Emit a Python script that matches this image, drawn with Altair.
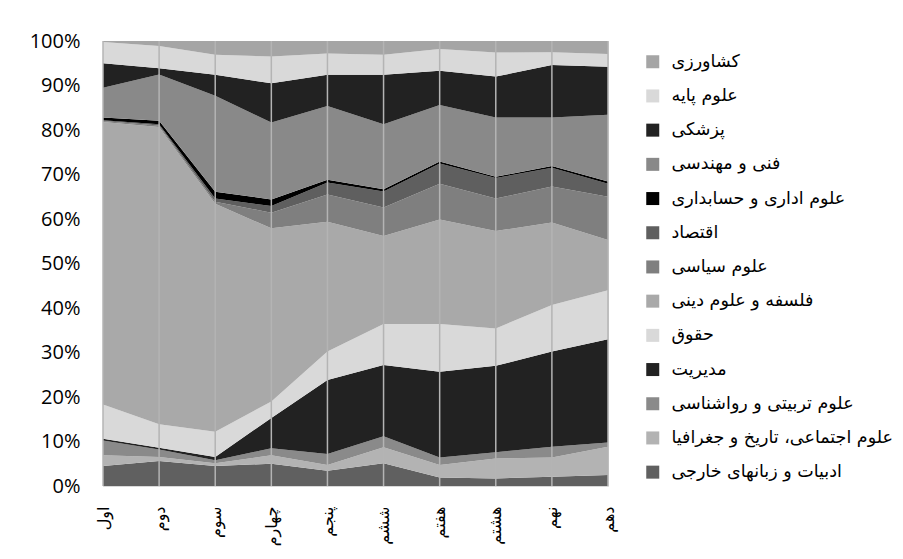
import altair as alt
import pandas as pd

grades = ["اول", "دوم", "سوم", "چهارم", "پنجم", "ششم", "هفتم", "هشتم", "نهم", "دهم"]

# series from bottom of the stack to the top
fields = [
    "ادبیات و زبانهای خارجی",
    "علوم اجتماعی، تاریخ و جغرافیا",
    "علوم تربیتی  و رواشناسی",
    "مدیریت",
    "حقوق",
    "فلسفه و علوم دینی",
    "علوم سیاسی",
    "اقتصاد",
    "علوم اداری و حسابداری",
    "فنی و مهندسی",
    "پزشکی",
    "علوم پایه",
    "کشاورزی",
]

adabiat = [4.5, 5.6, 4.5, 5.0, 3.4, 5.1, 1.9, 1.7, 2.1, 2.5]
ejtemaei = [2.4, 0.9, 0.6, 1.9, 1.3, 3.6, 2.8, 4.5, 4.3, 6.3]
tarbiati = [3.3, 1.7, 0.7, 1.6, 2.5, 2.5, 1.7, 1.4, 2.4, 1.0]
modiriat = [0.4, 0.4, 0.7, 6.8, 16.6, 16.0, 19.3, 19.4, 21.4, 23.2]
hoghoogh = [7.7, 5.3, 5.7, 3.7, 6.4, 9.2, 10.7, 8.4, 10.5, 11.0]
falsafe = [63.5, 66.8, 51.2, 38.9, 29.2, 19.8, 23.5, 21.9, 18.5, 11.3]
siasi = [0.2, 0.3, 0.5, 3.5, 6.1, 6.4, 8.0, 7.3, 8.1, 9.7]
eghtesad = [0.2, 0.3, 0.7, 1.5, 2.7, 3.6, 4.6, 4.6, 4.2, 2.9]
edari = [0.6, 0.8, 1.5, 1.5, 0.6, 0.5, 0.4, 0.3, 0.4, 0.5]
fanni = [6.7, 10.4, 21.6, 17.3, 16.6, 14.6, 12.7, 13.3, 10.9, 15.0]
pezeshki = [5.5, 1.4, 4.7, 8.8, 7.0, 11.1, 7.7, 9.2, 11.8, 10.8]
payeh = [4.8, 5.0, 4.5, 6.0, 4.8, 4.5, 4.9, 5.4, 2.9, 2.9]
keshavarzi = [0.2, 1.1, 3.1, 3.5, 2.8, 3.1, 1.8, 2.6, 2.5, 2.9]

series = [adabiat, ejtemaei, tarbiati, modiriat, hoghoogh, falsafe, siasi,
          eghtesad, edari, fanni, pezeshki, payeh, keshavarzi]

colors = ["#606060", "#b3b3b3", "#8a8a8a", "#222222", "#d9d9d9", "#a9a9a9",
          "#7f7f7f", "#5f5f5f", "#000000", "#898989", "#222222", "#d9d9d9",
          "#a5a5a5"]

rows = []
for i, (f, vals) in enumerate(zip(fields, series)):
    for g, v in zip(grades, vals):
        rows.append({"grade": g, "field": f, "value": v, "order": i})
df = pd.DataFrame(rows)

legend_domain = fields[::-1]
legend_range = colors[::-1]

x_enc = alt.X(
    "grade:N",
    sort=grades,
    scale=alt.Scale(type="point", padding=0),
    axis=alt.Axis(
        title=None, labelAngle=-90, grid=False, ticks=False,
        domain=True, domainColor="#d9d9d9", labelPadding=20,
        labelFontSize=16, labelFont="DejaVu Sans", labelColor="black",
    ),
)

area = alt.Chart(df).mark_area().encode(
    x=x_enc,
    y=alt.Y(
        "value:Q",
        stack="normalize",
        scale=alt.Scale(domain=[0, 1], nice=False),
        axis=alt.Axis(
            title=None, format=".0%", values=[i / 10 for i in range(11)],
            grid=False, ticks=False, domain=False, labelPadding=23,
            labelFontSize=20, labelFont="Open Sans", labelColor="black",
        ),
    ),
    color=alt.Color(
        "field:N",
        scale=alt.Scale(domain=legend_domain, range=legend_range),
        legend=alt.Legend(
            orient="none", legendX=541, legendY=12, title=None,
            symbolType="square", symbolSize=169, symbolStrokeWidth=0,
            symbolOpacity=1, labelFontSize=17.5, labelFont="DejaVu Sans",
            labelColor="black", rowPadding=15.2, labelOffset=10, padding=0,
            labelLimit=400,
        ),
    ),
    order=alt.Order("order:Q", sort="ascending"),
)

rules = alt.Chart(pd.DataFrame({"grade": grades})).mark_rule(
    color="#b4b4b4", strokeWidth=1.5
).encode(x=alt.X("grade:N", sort=grades))

chart = alt.layer(area, rules).properties(
    width=505,
    height=445,
    autosize=alt.AutoSizeParams(type="none"),
    padding={"left": 95, "top": 33, "right": 287, "bottom": 65},
).configure_view(stroke=None).configure(background="white")

chart.save("out.html", embed_options={"renderer": "svg", "actions": False})
